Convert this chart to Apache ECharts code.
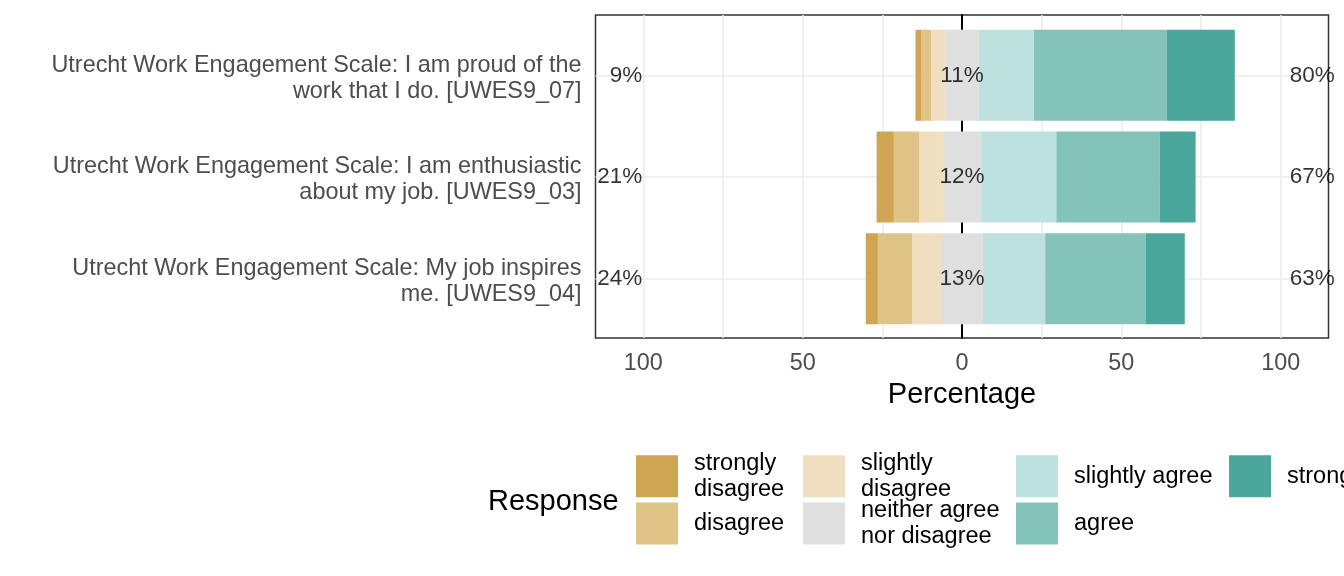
<!DOCTYPE html>
<html>
<head>
<meta charset="utf-8">
<script src="https://cdn.jsdelivr.net/npm/echarts@6/dist/echarts.min.js"></script>
<style>
html, body { margin: 0; padding: 0; background: #fff; }
#chart { width: 1344px; height: 576px; }
</style>
</head>
<body>
<div id="chart"></div>
<script>
// items, top to bottom
var categories = [
    'Utrecht Work Engagement Scale: I am proud of the\nwork that I do. [UWES9_07]',
    'Utrecht Work Engagement Scale: I am enthusiastic\nabout my job. [UWES9_03]',
    'Utrecht Work Engagement Scale: My job inspires\nme. [UWES9_04]'
];
var responses = ['strongly disagree', 'disagree', 'slightly disagree', 'neither agree nor disagree',
    'slightly agree', 'agree', 'strongly agree'];
var responseLabels = ['strongly\ndisagree', 'disagree', 'slightly\ndisagree', 'neither agree\nnor disagree',
    'slightly agree', 'agree', 'strongly agree'];
var colors = ['#CFA554', '#DFC387', '#EFDFC0', '#DFDFDF', '#BDE1DE', '#84C3B9', '#4BA79B'];

// percentages per item
var stronglyDisagree = [1.9, 5.4, 3.8];
var disagree = [3.0, 7.9, 10.7];
var slightlyDisagree = [4.4, 7.5, 9.1];
var neutral = [10.6, 12.0, 13.2];
var slightlyAgree = [17.3, 23.6, 19.5];
var agree = [41.6, 32.4, 31.5];
var stronglyAgree = [21.4, 11.3, 12.3];

var tickValues = [-100, -50, 0, 50, 100];
var gridValues = [-100, -75, -50, -25, 0, 25, 50, 75, 100];

var font = 'Liberation Sans, Arial, sans-serif';
var xMin = -115, xMax = 115, xStep = 5;

function neg(arr) { return arr.map(function (v) { return -v; }); }
function half(arr, s) { return arr.map(function (v) { return s * v / 2; }); }

var lowTotals = [], midTotals = [], highTotals = [];
for (var i = 0; i < categories.length; i++) {
    lowTotals.push([-100, i, stronglyDisagree[i] + disagree[i] + slightlyDisagree[i]]);
    midTotals.push([0, i, neutral[i]]);
    highTotals.push([100, i, slightlyAgree[i] + agree[i] + stronglyAgree[i]]);
}

// only the 25-steps get a visible grid line
var splitColors = [];
for (var v = xMin; v <= xMax; v += xStep) {
    splitColors.push(gridValues.indexOf(v) >= 0 ? '#EBEBEB' : 'rgba(0,0,0,0)');
}

function barSeries(name, data, color) {
    return {
        name: name, type: 'bar', stack: 'likert', xAxisIndex: 1, yAxisIndex: 1,
        barWidth: 91, data: data, silent: true,
        itemStyle: { color: color }
    };
}

function labelSeries(data, pos, dist) {
    return {
        type: 'scatter', xAxisIndex: 1, yAxisIndex: 1, symbolSize: 0, data: data, silent: true, z: 5,
        label: {
            show: true, position: pos, distance: dist, color: '#000', fontSize: 22.5, fontFamily: font,
            formatter: function (p) { return Math.round(p.value[2]) + '%'; }
        }
    };
}

var cols = [[0, 1], [2, 3], [4, 5], [6]];
var colLeft = [636, 803, 1016, 1229];
var colTop = [450.8, 450.8, 455.3, 455.3];
var colGap = [0.8, -3.7, 5.3, 5.3];
var legends = cols.map(function (c, k) {
    return {
        orient: 'vertical', left: colLeft[k], top: colTop[k], padding: 0, icon: 'rect',
        itemWidth: 42, itemHeight: 42, itemGap: colGap[k], selectedMode: false,
        data: c.map(function (j) { return responses[j]; }),
        formatter: function (name) { return responseLabels[responses.indexOf(name)]; },
        textStyle: { fontSize: 23.5, lineHeight: 25.5, color: '#000', fontFamily: font, padding: [0, 0, 0, 11] }
    };
});

var chart = echarts.init(document.getElementById('chart'));
var option = {
    animation: false,
    title: {
        text: 'Response', left: 488, top: 487, padding: 0,
        textStyle: { fontSize: 29, fontWeight: 'normal', color: '#000', fontFamily: font }
    },
    legend: legends,
    grid: [
        { left: 595.5, width: 733, top: 15, height: 323, show: true, borderColor: '#333', borderWidth: 1.5 },
        { left: 595.5, width: 733, top: 75.3, height: 203.4 }
    ],
    xAxis: [
        {
            gridIndex: 0, type: 'value', min: xMin, max: xMax, interval: xStep,
            axisLine: { show: false }, axisTick: { show: false },
            axisLabel: {
                margin: 14, color: '#4D4D4D', fontSize: 23.4, fontFamily: font,
                formatter: function (v) { return tickValues.indexOf(v) >= 0 ? String(Math.abs(v)) : ''; }
            },
            splitLine: { lineStyle: { width: 1.5, color: splitColors } },
            name: 'Percentage', nameLocation: 'middle', nameGap: 42,
            nameTextStyle: { fontSize: 29, color: '#000', fontFamily: font }
        },
        { gridIndex: 1, type: 'value', min: xMin, max: xMax, show: false }
    ],
    yAxis: [
        {
            gridIndex: 0, type: 'value', min: 0, max: 1,
            axisLine: { show: true, onZero: true, lineStyle: { color: '#000', width: 2 } },
            axisTick: { show: false }, axisLabel: { show: false }, splitLine: { show: false }
        },
        {
            gridIndex: 1, type: 'category', data: categories, inverse: true, boundaryGap: false,
            axisLine: { show: false }, axisTick: { show: false },
            axisLabel: {
                margin: 14, color: '#4D4D4D', fontSize: 23.4, lineHeight: 26, fontFamily: font,
                align: 'right', verticalAlign: 'top', padding: [-23, 0, 0, 0]
            },
            splitLine: { show: true, lineStyle: { color: '#EBEBEB', width: 1.5 } }
        }
    ],
    series: [
        barSeries(responses[3], half(neutral, -1), colors[3]),
        barSeries(responses[3], half(neutral, 1), colors[3]),
        barSeries(responses[2], neg(slightlyDisagree), colors[2]),
        barSeries(responses[4], slightlyAgree, colors[4]),
        barSeries(responses[1], neg(disagree), colors[1]),
        barSeries(responses[5], agree, colors[5]),
        barSeries(responses[0], neg(stronglyDisagree), colors[0]),
        barSeries(responses[6], stronglyAgree, colors[6]),
        labelSeries(lowTotals, 'left', 1),
        labelSeries(midTotals, 'inside', 0),
        labelSeries(highTotals, 'right', 9)
    ]
};
chart.setOption(option);
</script>
</body>
</html>
